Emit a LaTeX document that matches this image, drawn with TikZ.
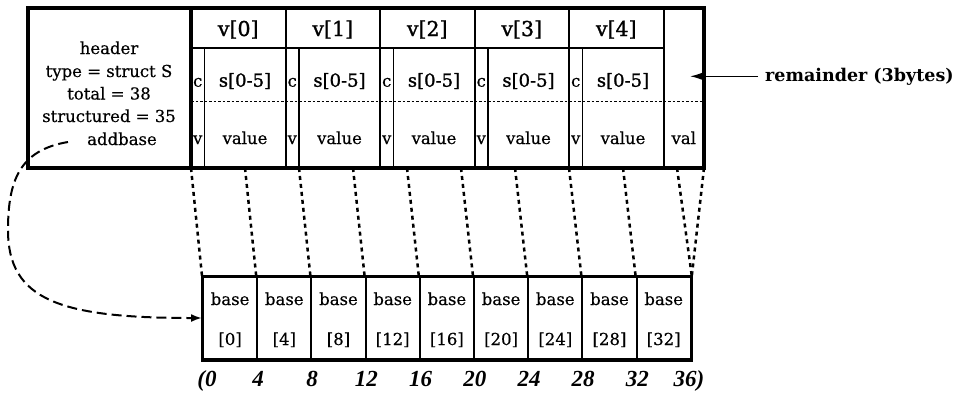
\documentclass[tikz,border=0pt]{standalone}
\usepackage{fontspec}
\setmainfont{DejaVu Serif}
\newfontfamily\cellfont{DejaVu Serif}[FakeBold=0.4]
\newfontfamily\headfont{DejaVu Serif}[FakeBold=1.3]
\newfontfamily\offsetfont{Liberation Serif}
\usetikzlibrary{arrows.meta}

\tikzset{
  frame/.style={line width=4pt},
  structline/.style={line width=2pt},
  rowline/.style={line width=1.5pt},
  cline/.style={line width=1.2pt},
  sepline/.style={line width=1pt, dash pattern=on 2.5pt off 2pt},
  txt/.style={inner sep=0pt, anchor=base, font=\cellfont\fontsize{16.5}{20}\selectfont},
  vlabel/.style={txt, font=\headfont\fontsize{20.5}{24}\selectfont},
  slabel/.style={txt, font=\headfont\fontsize{18}{22}\selectfont},
  remlabel/.style={inner xsep=7pt, inner ysep=0pt, anchor=base west, font=\bfseries\fontsize{17.5}{21}\selectfont},
  basecell/.style={draw, line width=2pt, minimum width=54.2pt, minimum height=82pt, inner sep=0pt},
  bframe/.style={line width=3pt},
  maplink/.style={line width=2.5pt, dash pattern=on 4pt off 4pt},
  addrlink/.style={line width=2pt, dash pattern=on 10pt off 5pt, -{Latex[length=11pt,width=8pt]}},
  remlink/.style={line width=1.3pt, -{Latex[length=12pt,width=7pt]}},
  offlabel/.style={inner sep=0pt, anchor=base, font=\offsetfont\bfseries\itshape\fontsize{23}{26}\selectfont},
}

\begin{document}
\begin{tikzpicture}[x=1pt, y=-1pt]
  \useasboundingbox (0,0) rectangle (955,392);

  % ---------- record layout (1 byte = 13.5 units, data starts at x = 191) ----------
  % struct boundaries and the label row
  \foreach \i in {1,...,5} {
    \draw[structline] ({191+94.5*\i},8) -- ({191+94.5*\i},168);
  }
  \draw[rowline] (191,48) -- (663.5,48);
  % one-byte c / v columns
  \foreach \i in {0,...,4} {
    \draw[cline] ({204.5+94.5*\i},48) -- ({204.5+94.5*\i},168);
  }
  % split between the s[] part and the value part
  \draw[sepline] (191,101) -- (704,101);
  % outer frame and header separator
  \draw[frame] (28,8) rectangle (704,168);
  \draw[frame] (191,8) -- (191,168);

  % header text
  \node[txt] (hdr)   at (109,54)    {header};
  \node[txt] (htype) at (109,77)    {type = struct S};
  \node[txt] (htot)  at (109,99.5)  {total = 38};
  \node[txt] (hstr)  at (109,122)   {structured = 35};
  \node[txt] (haddr) at (122,145)   {addbase};

  % struct cells
  \foreach \i in {0,...,4} {
    \node[vlabel] (v\i) at ({238.25+94.5*\i},36) {v[\i]};
    \node[txt]    (c\i) at ({197.75+94.5*\i},86.7) {c};
    \node[slabel] (s\i) at ({245+94.5*\i},86.7) {s[0-5]};
    \node[txt]    (w\i) at ({197.75+94.5*\i},144) {v};
    \node[txt]    (val\i) at ({245+94.5*\i},144) {value};
  }
  \node[txt] (rval) at (683.75,144) {val};

  % remainder annotation
  \node[remlabel] (rem) at (758,81) {remainder (3bytes)};
  \coordinate (remtip) at (690,75);
  \draw[remlink] (rem.west) -- (rem.west -| remtip);

  % ---------- base table ----------
  \foreach \k [evaluate=\k as \idx using int(4*\k)] in {0,...,8} {
    \node[basecell] (b\k) at ({230.1+54.2*\k},318) {};
    \node[txt] (bl\k) at ({230.1+54.2*\k},305) {base};
    \node[txt] (bi\k) at ({230.1+54.2*\k},345) {[\idx]};
  }
  \draw[bframe] (b0.north west) rectangle (b8.south east);

  % byte offsets every 4 bytes on the record's lower edge
  \foreach \k in {0,...,9} {
    \coordinate (t\k) at ({191+54*\k},168);
  }
  \coordinate (tend) at (704,168);

  % mapping of record offsets onto the base table
  \foreach \k in {0,...,8} {
    \draw[maplink] (t\k) -- (b\k.north west);
  }
  \draw[maplink] (t9) -- (b8.north east);
  \draw[maplink] (tend) -- (b8.north east);

  % addbase pointer
  \coordinate (abstart) at (68,142);
  \draw[addrlink] (abstart) .. controls (20,150) and (8,180) .. (8,230)
                            .. controls (8,300) and (60,318) .. (b0.west);

  % offset scale
  \node[offlabel] (o0) at (207,386.7) {(0};
  \foreach \k [evaluate=\k as \off using int(4*\k)] in {1,...,8} {
    \node[offlabel] (o\k) at ({203.8+54.2*\k},386.7) {\off};
  }
  \node[offlabel] (o9) at (689,386.7) {36)};
\end{tikzpicture}
\end{document}
